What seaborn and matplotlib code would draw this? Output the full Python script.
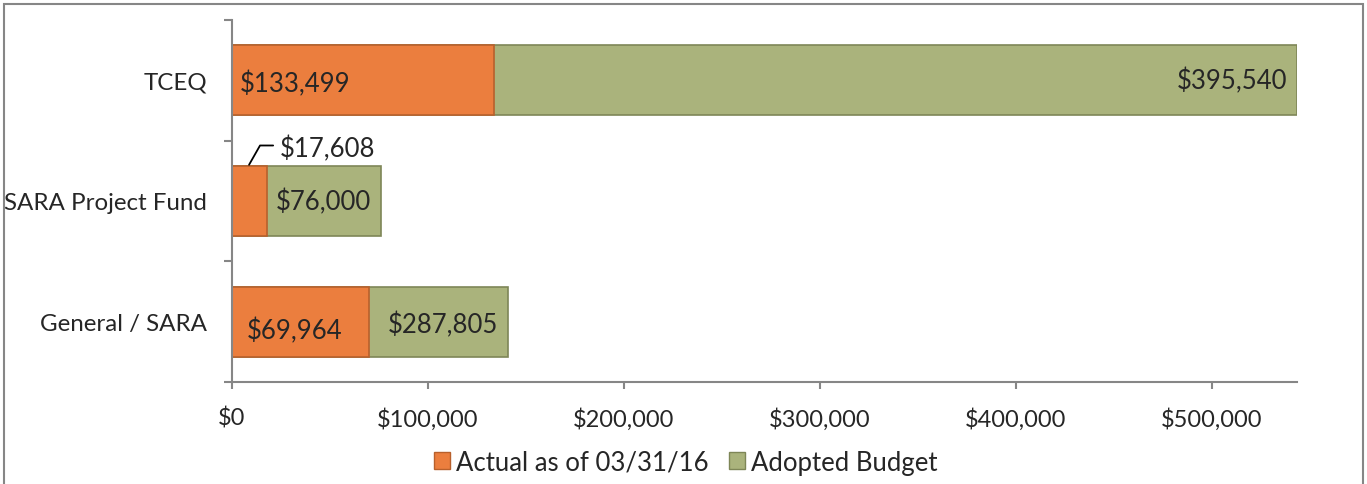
import pandas as pd
import matplotlib.pyplot as plt
import matplotlib.patches as mpatches
from matplotlib.ticker import FuncFormatter, FixedLocator
import seaborn as sns

sns.set_theme(style="white")
plt.rcParams["font.family"] = ["Lato", "DejaVu Sans"]

# ---- data ----
funds = ["TCEQ", "SARA Project Fund", "General / SARA"]
actual = [133499, 17608, 69964]
# length of the green segment as it is drawn in the chart
budget_drawn = [410000, 58400, 70900]
actual_labels = ["$133,499", "$17,608", "$69,964"]
budget_labels = ["$395,540", "$76,000", "$287,805"]
x_ticks = [0, 100000, 200000, 300000, 400000, 500000]
x_max = 543400

ORANGE = "#EB7E3E"
GREEN = "#AAB37C"
GRID = "#868686"

df = pd.DataFrame({
    "fund": funds,
    "actual": actual,
    "total": [a + b for a, b in zip(actual, budget_drawn)],
})

fig = plt.figure(figsize=(13.67, 4.85), dpi=100)
ax = fig.add_axes([232 / 1367, 1 - 383 / 485, (1297 - 232) / 1367, (383 - 21) / 485])

sns.barplot(data=df, y="fund", x="total", orient="h", color=GREEN, saturation=1,
            width=0.58, edgecolor="#7E8657", linewidth=1.2, ax=ax)
sns.barplot(data=df, y="fund", x="actual", orient="h", color=ORANGE, saturation=1,
            width=0.58, edgecolor="#B8602C", linewidth=1.2, ax=ax)

ax.set_xlim(0, x_max)
ax.set_ylim(2.5, -0.5)
ax.set_xlabel("")
ax.set_ylabel("")

# axis styling
for s in ["top", "right"]:
    ax.spines[s].set_visible(False)
for s in ["left", "bottom"]:
    ax.spines[s].set_color(GRID)
    ax.spines[s].set_linewidth(1.5)

ax.set_xticks(x_ticks)
ax.xaxis.set_major_formatter(FuncFormatter(lambda v, p: f"${v:,.0f}"))
ax.tick_params(axis="x", direction="out", length=5, width=1.5, color=GRID,
               labelsize=17, pad=13, bottom=True)
ax.set_yticks(range(len(funds)))
ax.set_yticklabels(funds)
ax.tick_params(axis="y", which="major", length=0, labelsize=17.4, pad=18)
ax.yaxis.set_minor_locator(FixedLocator([-0.5, 0.5, 1.5, 2.5]))
ax.tick_params(axis="y", which="minor", direction="out", length=6, width=1.5,
               color=GRID, left=True)

# value labels
fs = 18.5
for i in range(len(funds)):
    tot = actual[i] + budget_drawn[i]
    dy = 0.025 if i == 2 else 0.0
    ax.text(tot - 5000, i + dy, budget_labels[i], ha="right", va="center", fontsize=fs)

ax.text(4000, 0.02, actual_labels[0], ha="left", va="center", fontsize=fs)
# small segment: label sits above with a leader line
ax.plot([8700, 14300, 21000], [0.70, 0.54, 0.54], color="black", lw=1.3)
ax.text(24500, 0.56, actual_labels[1], ha="left", va="center", fontsize=fs)
ax.text(7500, 2.07, actual_labels[2], ha="left", va="center", fontsize=fs)

# legend
handles = [mpatches.Patch(facecolor=ORANGE, edgecolor="#B8602C", label="Actual as of 03/31/16"),
           mpatches.Patch(facecolor=GREEN, edgecolor="#7E8657", label="Adopted Budget")]
fig.legend(handles=handles, loc="center", bbox_to_anchor=(686 / 1367, 1 - 463 / 485),
           ncol=2, frameon=False, fontsize=18.5, handlelength=0.6, handleheight=0.6,
           handletextpad=0.25, columnspacing=0.8)

# outer chart border
fig.add_artist(mpatches.Rectangle((4 / 1367, -0.05), (1363 - 4) / 1367, 1.05 - 5 / 485,
                                  transform=fig.transFigure, fill=False,
                                  edgecolor=GRID, linewidth=1.5))

fig.savefig("out.png", dpi=100)
